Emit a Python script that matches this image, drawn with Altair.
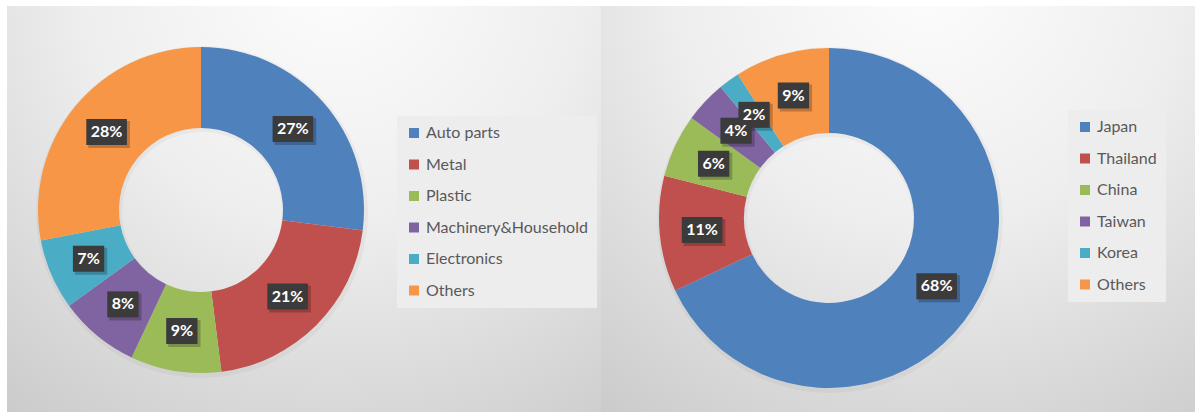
import altair as alt
import pandas as pd

# Data
sectors = ["Auto parts", "Metal", "Plastic", "Machinery&Household", "Electronics", "Others"]
sector_share = [27, 21, 9, 8, 7, 28]
countries = ["Japan", "Thailand", "China", "Taiwan", "Korea", "Others"]
country_share = [68, 11, 6, 4, 2, 9]
palette = ["#4F81BD", "#C0504D", "#9BBB59", "#8064A2", "#4BACC6", "#F79646"]

PANEL_W, PANEL_H = 594, 406
FONT = "Lato"


def donut(names, shares, cx, cy, r_out, r_in, legend_x, legend_y):
    df = pd.DataFrame({"name": names, "share": shares, "idx": list(range(len(names)))})
    r_mid = (r_out + r_in) / 2

    base = alt.Chart(df)

    # panel backdrop with a soft radial light
    backdrop = base.transform_filter("datum.idx == 0").mark_rect(
        color=alt.Gradient(
            gradient="radial",
            stops=[
                alt.GradientStop(color="#fdfdfd", offset=0),
                alt.GradientStop(color="#eeeeee", offset=0.45),
                alt.GradientStop(color="#c9c9c9", offset=1),
            ],
            x1=0.55, y1=0.1, r1=0, x2=0.55, y2=0.1, r2=0.95,
        )
    ).encode(x=alt.value(0), x2=alt.value(PANEL_W), y=alt.value(0), y2=alt.value(PANEL_H))

    # faint drop shadow under the ring
    shadow = base.transform_filter("datum.idx == 0").mark_arc(
        radius=r_out + 3, innerRadius=r_in - 2, color="#000000", opacity=0.035
    ).encode(theta=alt.value(6.2832), x=alt.value(cx + 1), y=alt.value(cy + 2))

    ring = base.mark_arc(radius=r_out, innerRadius=r_in).encode(
        theta=alt.Theta("share:Q", stack=True),
        order=alt.Order("idx:Q"),
        color=alt.Color(
            "name:N",
            scale=alt.Scale(domain=names, range=palette),
            legend=alt.Legend(
                title=None,
                orient="none",
                legendX=legend_x,
                legendY=legend_y,
                symbolType="square",
                symbolSize=100,
                symbolStrokeWidth=0,
                labelFont=FONT,
                labelFontSize=16,
                labelColor="#595959",
                labelLimit=300,
                labelOffset=4,
                rowPadding=15.5,
                padding=9,
                fillColor="#ededed",
            ),
        ),
        x=alt.value(cx),
        y=alt.value(cy),
    )

    placed = base.transform_window(
        cum="sum(share)", sort=[alt.SortField("idx")]
    ).transform_joinaggregate(total="sum(share)").transform_calculate(
        ang="2*PI*(datum.cum - datum.share/2)/datum.total",
        lx=f"{cx} + {r_mid}*sin(datum.ang)",
        ly=f"{cy} - {r_mid}*cos(datum.ang)",
        label="datum.share + '%'",
        hw="(9.3*(length(datum.label)-1) + 13 + 9)/2",
    ).transform_calculate(
        bx1="datum.lx - datum.hw",
        bx2="datum.lx + datum.hw",
        by1="datum.ly - 13",
        by2="datum.ly + 13",
        sx1="datum.lx - datum.hw + 2",
        sx2="datum.lx + datum.hw + 3",
        sy1="datum.ly - 11",
        sy2="datum.ly + 16",
    )

    box_shadow = placed.mark_rect(color="#000000", opacity=0.22).encode(
        x=alt.X("sx1:Q", scale=None), x2="sx2:Q",
        y=alt.Y("sy1:Q", scale=None), y2="sy2:Q",
    )
    box = placed.mark_rect(color="#3b3b3b").encode(
        x=alt.X("bx1:Q", scale=None), x2="bx2:Q",
        y=alt.Y("by1:Q", scale=None), y2="by2:Q",
    )
    text = placed.mark_text(
        font=FONT, fontSize=16, fontWeight="bold", color="#ffffff",
        align="center", baseline="middle",
    ).encode(
        x=alt.X("lx:Q", scale=None),
        y=alt.Y("ly:Q", scale=None),
        text="label:N",
    )

    return alt.layer(backdrop, shadow, ring, box_shadow, box, text).properties(
        width=PANEL_W, height=PANEL_H
    )


left = donut(sectors, sector_share, 194, 204, 163, 82, 390, 110)
right = donut(countries, country_share, 228, 212, 170, 85, 467, 104)

chart = alt.hconcat(left, right, spacing=0).resolve_scale(
    color="independent"
).resolve_legend(color="independent").properties(
    padding={"left": 7, "top": 6, "right": 0, "bottom": 0},
    background="#ffffff",
).configure_view(strokeWidth=0)

chart.save("out.html", embed_options={"renderer": "svg", "actions": False})
